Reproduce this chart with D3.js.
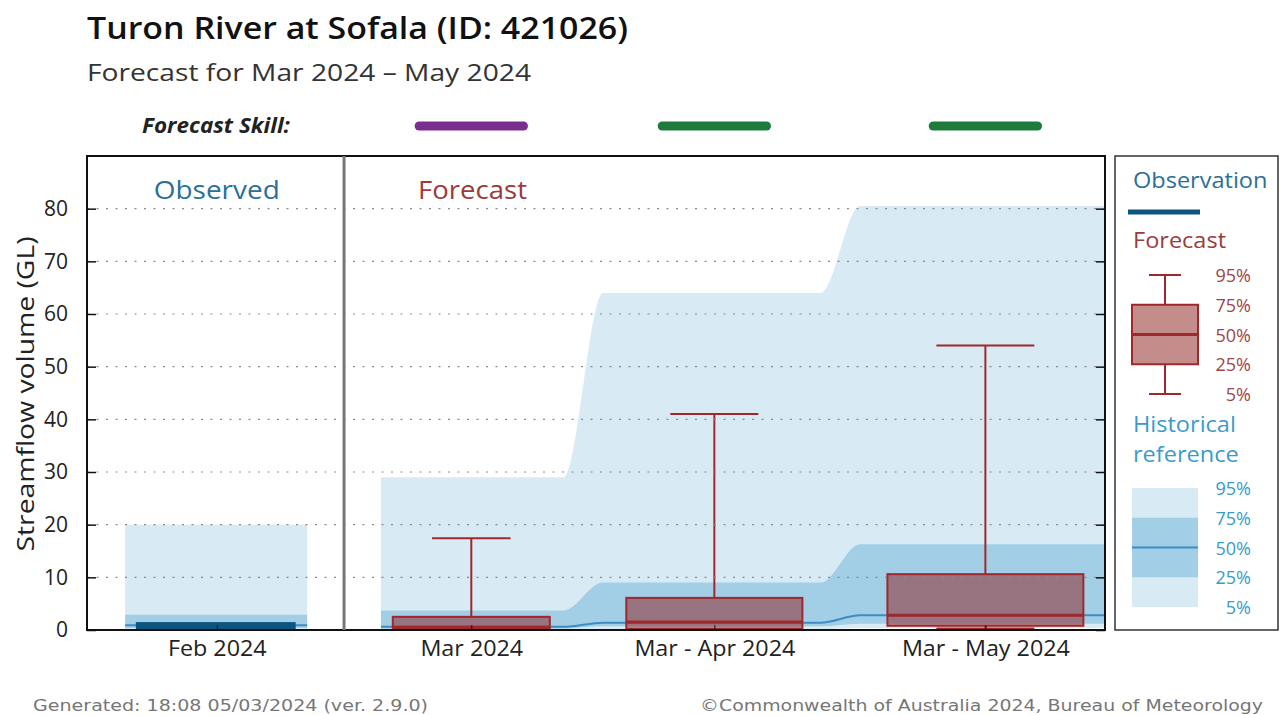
<!DOCTYPE html>
<html>
<head>
<meta charset="utf-8">
<script src="https://cdn.jsdelivr.net/npm/d3@7"></script>
<style>
  body { margin: 0; background: #fff; }
  svg { display: block; font-family: "Open Sans", sans-serif; }
</style>
</head>
<body>
<svg></svg>
<script>
// categories along the x axis (first one is the observed month)
const categories = ["Feb 2024", "Mar 2024", "Mar - Apr 2024", "Mar - May 2024"];
const forecastCats = categories.slice(1);

// observed volume for Feb (GL)
const observed = [1.5];

// historical reference percentiles, one per category
const hist5 = [0.1, 0.1, 0.2, 0.4];
const hist25 = [0.4, 0.3, 0.7, 1.2];
const hist50 = [0.9, 0.6, 1.4, 2.8];
const hist75 = [2.9, 3.7, 9.0, 16.3];
const hist95 = [20.0, 29.0, 64.0, 80.5];

// forecast percentiles, one per forecast period
const fc5 = [0.05, 0.1, 0.3];
const fc25 = [0.2, 0.2, 0.8];
const fc50 = [0.5, 1.5, 2.8];
const fc75 = [2.5, 6.1, 10.6];
const fc95 = [17.4, 41.0, 54.0];

// forecast skill per period
const skill = ["Moderate", "High", "High"];

const yTicks = [0, 10, 20, 30, 40, 50, 60, 70, 80];
const pctLabels = ["95%", "75%", "50%", "25%", "5%"];

// ---- layout
let width = 1281;
let height = 715;
let plot = {left: 87, right: 1105, top: 156, bottom: 630};

let svg = d3.select("svg")
    .attr("width", width)
    .attr("height", height);

// slot position of each category along a 0..4 axis, and box width per period
let slot = d3.scaleOrdinal().domain(categories).range([0.51, 1.51, 2.465, 3.53]);
let boxW = d3.scaleOrdinal().domain(forecastCats).range([0.617, 0.692, 0.77]);

let xs = d3.scaleLinear()
    .domain([0, 4])
    .range([plot.left, plot.right]);
let cx = (c) => xs(slot(c));

let y = d3.scaleLinear()
    .domain([0, 90])
    .range([plot.bottom, plot.top]);

const lightBlue = "#d8eaf3";
const midBlue = "#a2cfe6";
const medBlue = "#3d8cc6";
const obsBlue = "#0c5580";
const boxRed = "#a0282c";
const boxFill = "rgba(139, 26, 26, 0.5)";
const skillColor = d3.scaleOrdinal().domain(["Moderate", "High"]).range(["#7b2d8d", "#1f7b3b"]);

// stretch text a little wider, the source chart uses a wider rendering
function widen(sel, k) {
    sel.each(function () {
        let len = this.getComputedTextLength();
        d3.select(this).attr("textLength", len * k).attr("lengthAdjust", "spacingAndGlyphs");
    });
}

// ---- titles
svg.append("text")
    .attr("x", 87).attr("y", 39)
    .attr("font-size", 30).attr("font-weight", 600).attr("fill", "#111")
    .attr("textLength", 541).attr("lengthAdjust", "spacingAndGlyphs")
    .text("Turon River at Sofala (ID: 421026)");

svg.append("text")
    .attr("x", 87).attr("y", 81)
    .attr("font-size", 24).attr("fill", "#333")
    .attr("textLength", 444).attr("lengthAdjust", "spacingAndGlyphs")
    .text("Forecast for Mar 2024 \u2013 May 2024");

svg.append("text")
    .attr("x", 142).attr("y", 133)
    .attr("font-size", 20.5).attr("font-weight", 700).attr("font-style", "italic").attr("fill", "#222")
    .attr("textLength", 148).attr("lengthAdjust", "spacingAndGlyphs")
    .text("Forecast Skill:");

svg.append("g")
    .selectAll("line")
    .data(forecastCats)
    .enter()
    .append("line")
    .attr("x1", (d) => xs(slot(d) - 0.205))
    .attr("x2", (d) => xs(slot(d) + 0.205))
    .attr("y1", 126).attr("y2", 126)
    .attr("stroke", (d, i) => skillColor(skill[i]))
    .attr("stroke-width", 9)
    .attr("stroke-linecap", "round");

// ---- historical reference bands
let bands = svg.append("g").attr("class", "historical");

// observed month: plain rectangles
let feb = categories[0];
let febX0 = xs(slot(feb) - 0.36);
let febX1 = xs(slot(feb) + 0.355);
bands.append("rect")
    .attr("x", febX0).attr("width", febX1 - febX0)
    .attr("y", y(hist95[0])).attr("height", y(hist5[0]) - y(hist95[0]))
    .attr("fill", lightBlue);
bands.append("rect")
    .attr("x", febX0).attr("width", febX1 - febX0)
    .attr("y", y(hist75[0])).attr("height", y(hist25[0]) - y(hist75[0]))
    .attr("fill", midBlue);

// forecast periods: flat steps joined by smooth transitions at the slot boundaries
let pts = [];
forecastCats.forEach((c, j) => {
    let i = j + 1;
    let s0 = j === 0 ? slot(c) - 0.355 : (slot(forecastCats[j - 1]) + slot(c)) / 2 + 0.04;
    let s1 = j === forecastCats.length - 1 ? 4 : (slot(c) + slot(forecastCats[j + 1])) / 2 - 0.115;
    pts.push({x: xs(s0), i: i}, {x: xs(s1), i: i});
});

let band = (lo, hi) => d3.area()
    .x((d) => d.x)
    .y0((d) => y(lo[d.i]))
    .y1((d) => y(hi[d.i]))
    .curve(d3.curveMonotoneX);

bands.append("path").attr("d", band(hist5, hist95)(pts)).attr("fill", lightBlue);
bands.append("path").attr("d", band(hist25, hist75)(pts)).attr("fill", midBlue);
bands.append("path")
    .attr("d", d3.line().x((d) => d.x).y((d) => y(hist50[d.i])).curve(d3.curveMonotoneX)(pts))
    .attr("fill", "none").attr("stroke", medBlue).attr("stroke-width", 2);
bands.append("line")
    .attr("x1", febX0).attr("x2", febX1)
    .attr("y1", y(hist50[0])).attr("y2", y(hist50[0]))
    .attr("stroke", medBlue).attr("stroke-width", 2);

// ---- observation
svg.append("g")
    .selectAll("rect")
    .data(observed)
    .enter()
    .append("rect")
    .attr("x", xs(slot(feb) - 0.318))
    .attr("width", xs(slot(feb) + 0.31) - xs(slot(feb) - 0.318))
    .attr("y", (d) => y(d))
    .attr("height", (d) => y(0) - y(d))
    .attr("fill", obsBlue);

// ---- forecast box plots
let boxes = svg.append("g")
    .selectAll("g")
    .data(forecastCats)
    .enter()
    .append("g");

let bx = (d, f) => xs(slot(d) + f * boxW(d));

boxes.append("line")
    .attr("x1", (d) => cx(d)).attr("x2", (d) => cx(d))
    .attr("y1", (d, i) => y(fc95[i])).attr("y2", (d, i) => y(fc75[i]))
    .attr("stroke", boxRed).attr("stroke-width", 2);
boxes.append("line")
    .attr("x1", (d) => cx(d)).attr("x2", (d) => cx(d))
    .attr("y1", (d, i) => y(fc25[i])).attr("y2", (d, i) => y(fc5[i]))
    .attr("stroke", boxRed).attr("stroke-width", 2);
[fc95, fc5].forEach((vals) => {
    boxes.append("line")
        .attr("x1", (d) => bx(d, -0.25))
        .attr("x2", (d) => bx(d, 0.25))
        .attr("y1", (d, i) => y(vals[i])).attr("y2", (d, i) => y(vals[i]))
        .attr("stroke", boxRed).attr("stroke-width", 2);
});
boxes.append("rect")
    .attr("x", (d) => bx(d, -0.5))
    .attr("width", (d) => bx(d, 0.5) - bx(d, -0.5))
    .attr("y", (d, i) => y(fc75[i]))
    .attr("height", (d, i) => y(fc25[i]) - y(fc75[i]))
    .attr("fill", boxFill)
    .attr("stroke", boxRed).attr("stroke-width", 2);
boxes.append("line")
    .attr("x1", (d) => bx(d, -0.5))
    .attr("x2", (d) => bx(d, 0.5))
    .attr("y1", (d, i) => y(fc50[i])).attr("y2", (d, i) => y(fc50[i]))
    .attr("stroke", boxRed).attr("stroke-width", 3);

// ---- grid and axes
svg.append("g")
    .selectAll("line")
    .data(yTicks.filter((t) => t > 0))
    .enter()
    .append("line")
    .attr("x1", plot.left).attr("x2", plot.right)
    .attr("y1", (d) => y(d)).attr("y2", (d) => y(d))
    .attr("stroke", "#8a8a8a").attr("stroke-width", 1.2)
    .attr("stroke-dasharray", "2,7.5");

let yLeft = svg.append("g")
    .attr("transform", `translate(${plot.left},0)`)
    .call(d3.axisLeft(y).tickValues(yTicks).tickSize(-9).tickPadding(19));
yLeft.select(".domain").remove();
yLeft.selectAll("text").attr("font-size", 21).attr("fill", "#222").attr("font-family", "Open Sans");
yLeft.selectAll("line").attr("stroke", "#111").attr("stroke-width", 1.5);

let yRight = svg.append("g")
    .attr("transform", `translate(${plot.right},0)`)
    .call(d3.axisRight(y).tickValues(yTicks).tickSize(-9).tickFormat(""));
yRight.select(".domain").remove();
yRight.selectAll("line").attr("stroke", "#111").attr("stroke-width", 1.5);

let xAxis = svg.append("g")
    .attr("transform", `translate(0,${plot.bottom})`)
    .call(d3.axisBottom(xs)
        .tickValues(categories.map(slot))
        .tickFormat((v) => categories.find((c) => slot(c) === v))
        .tickSize(-5).tickPadding(11));
xAxis.select(".domain").remove();
xAxis.selectAll("text").attr("font-size", 21).attr("fill", "#222").attr("font-family", "Open Sans");
xAxis.selectAll("line").attr("stroke", "#111");
widen(xAxis.selectAll("text"), 1.11);

// frame and observed / forecast divider
svg.append("rect")
    .attr("x", plot.left).attr("y", plot.top)
    .attr("width", plot.right - plot.left).attr("height", plot.bottom - plot.top)
    .attr("fill", "none").attr("stroke", "#111").attr("stroke-width", 2);
let divider = xs((slot(categories[0]) + slot(categories[1])) / 2 + 0.0);
svg.append("line")
    .attr("x1", divider).attr("x2", divider)
    .attr("y1", plot.top).attr("y2", plot.bottom)
    .attr("stroke", "#777").attr("stroke-width", 3);

svg.append("text")
    .attr("x", cx(feb)).attr("y", 199)
    .attr("text-anchor", "middle")
    .attr("font-size", 26).attr("fill", "#2b6f98")
    .attr("textLength", 126).attr("lengthAdjust", "spacingAndGlyphs")
    .text("Observed");
svg.append("text")
    .attr("x", 418).attr("y", 199)
    .attr("font-size", 26).attr("fill", "#9c3b3b")
    .attr("textLength", 109).attr("lengthAdjust", "spacingAndGlyphs")
    .text("Forecast");

svg.append("text")
    .attr("transform", `translate(34,${394}) rotate(-90)`)
    .attr("text-anchor", "middle")
    .attr("font-size", 24).attr("fill", "#222")
    .attr("textLength", 315).attr("lengthAdjust", "spacingAndGlyphs")
    .text("Streamflow volume (GL)");

// ---- legend
let lg = svg.append("g");
lg.append("rect")
    .attr("x", 1115).attr("y", plot.top)
    .attr("width", 163).attr("height", plot.bottom - plot.top)
    .attr("fill", "#fff").attr("stroke", "#333").attr("stroke-width", 1.5);

lg.append("text").attr("x", 1133).attr("y", 188)
    .attr("font-size", 21).attr("fill", "#2b6f98").text("Observation");
lg.append("line")
    .attr("x1", 1128).attr("x2", 1200).attr("y1", 212).attr("y2", 212)
    .attr("stroke", obsBlue).attr("stroke-width", 5);

lg.append("text").attr("x", 1133).attr("y", 248)
    .attr("font-size", 21).attr("fill", "#9c3b3b").text("Forecast");

let fy = d3.scalePoint().domain(pctLabels).range([275, 394]);
let lbx = 1165;
lg.append("line").attr("x1", lbx).attr("x2", lbx).attr("y1", fy("95%")).attr("y2", fy("5%"))
    .attr("stroke", boxRed).attr("stroke-width", 2);
["95%", "5%"].forEach((p) => {
    lg.append("line").attr("x1", lbx - 16).attr("x2", lbx + 16).attr("y1", fy(p)).attr("y2", fy(p))
        .attr("stroke", boxRed).attr("stroke-width", 2);
});
lg.append("rect").attr("x", 1132).attr("width", 66)
    .attr("y", fy("75%")).attr("height", fy("25%") - fy("75%"))
    .attr("fill", "#c58c8c").attr("stroke", boxRed).attr("stroke-width", 2);
lg.append("line").attr("x1", 1132).attr("x2", 1198).attr("y1", fy("50%")).attr("y2", fy("50%"))
    .attr("stroke", boxRed).attr("stroke-width", 3);
lg.selectAll("text.fpct")
    .data(pctLabels)
    .enter()
    .append("text")
    .attr("class", "fpct")
    .attr("x", 1251).attr("y", (d) => fy(d) + 7)
    .attr("text-anchor", "end")
    .attr("font-size", 18).attr("fill", "#a04545")
    .text((d) => d);

lg.append("text").attr("x", 1133).attr("y", 432)
    .attr("font-size", 21).attr("fill", "#3a9bc9").text("Historical");
lg.append("text").attr("x", 1133).attr("y", 462)
    .attr("font-size", 21).attr("fill", "#3a9bc9").text("reference");

let hy = d3.scalePoint().domain(pctLabels).range([488, 607]);
lg.append("rect").attr("x", 1132).attr("width", 66)
    .attr("y", hy("95%")).attr("height", hy("5%") - hy("95%")).attr("fill", lightBlue);
lg.append("rect").attr("x", 1132).attr("width", 66)
    .attr("y", hy("75%")).attr("height", hy("25%") - hy("75%")).attr("fill", midBlue);
lg.append("line").attr("x1", 1132).attr("x2", 1198).attr("y1", hy("50%")).attr("y2", hy("50%"))
    .attr("stroke", medBlue).attr("stroke-width", 2);
lg.selectAll("text.hpct")
    .data(pctLabels)
    .enter()
    .append("text")
    .attr("class", "hpct")
    .attr("x", 1251).attr("y", (d) => hy(d) + 7)
    .attr("text-anchor", "end")
    .attr("font-size", 18).attr("fill", "#3a9bc9")
    .text((d) => d);

widen(lg.selectAll("text:not(.fpct):not(.hpct)"), 1.12);

// ---- footer
svg.append("text")
    .attr("x", 33).attr("y", 711)
    .attr("font-family", "DejaVu Sans").attr("font-size", 15).attr("fill", "#777")
    .attr("textLength", 395).attr("lengthAdjust", "spacingAndGlyphs")
    .text("Generated: 18:08 05/03/2024 (ver. 2.9.0)");
svg.append("text")
    .attr("x", 1263).attr("y", 711)
    .attr("text-anchor", "end")
    .attr("font-family", "DejaVu Sans").attr("font-size", 15).attr("fill", "#777")
    .attr("textLength", 563).attr("lengthAdjust", "spacingAndGlyphs")
    .text("\u00A9Commonwealth of Australia 2024, Bureau of Meteorology");
</script>
</body>
</html>
